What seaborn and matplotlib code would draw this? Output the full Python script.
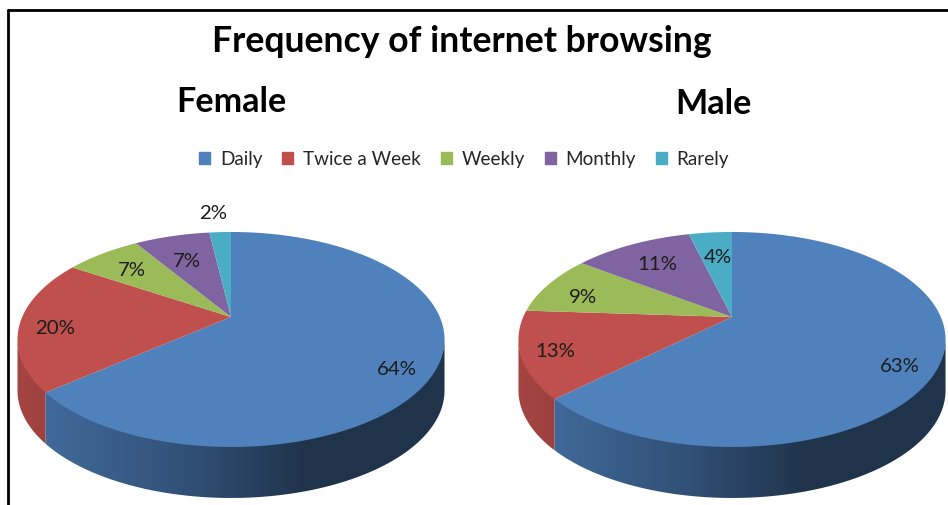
import numpy as np
import matplotlib
matplotlib.use("Agg")
import matplotlib.pyplot as plt
import seaborn as sns
from matplotlib.transforms import Transform, Affine2D
from matplotlib.path import Path
from matplotlib.patches import PathPatch, Rectangle
from matplotlib.colors import to_rgb

# ---------------- data ----------------
chart_title = "Frequency of internet browsing"
panel_titles = ["Female", "Male"]
categories = ["Daily", "Twice a Week", "Weekly", "Monthly", "Rarely"]
female_values = [64, 20, 7, 7, 2]
male_values = [63, 13, 9, 11, 4]

# ---------------- style ----------------
slice_colors = ["#4F81BD", "#C0504D", "#9BBB59", "#8064A2", "#4BACC6"]
female_label_r = [0.85, 0.83, 0.73, 0.67, 1.29]
female_label_dphi = [-7, 3, 1, 1, 1.3]
male_label_r = [0.85, 0.85, 0.77, 0.71, 0.67]
male_label_dphi = [-7, 1, 4.5, 0, -0.7]

W, H = 948, 506
sns.set_theme(style="white")
plt.rcParams["font.family"] = ["Lato", "DejaVu Sans"]

fig = plt.figure(figsize=(W / 100, H / 100), dpi=100)
ax = fig.add_axes([0, 0, 1, 1])

# perspective parameters (pixels)
K, A, B, DEPTH = 0.209, 208.8, 102.8, 51.0
XMAX = A / np.sqrt(1 - K ** 2)
FRONT = (180 + np.degrees(np.arcsin(K)), 360 - np.degrees(np.arcsin(K)))


def persp(u, v):
    w = 1 + K * v
    return A * u / w, B * v / w


class Perspective(Transform):
    input_dims = 2
    output_dims = 2
    is_separable = False
    has_inverse = False

    def transform_non_affine(self, values):
        values = np.asarray(values, float).reshape(-1, 2)
        X, Y = persp(values[:, 0], values[:, 1])
        return np.column_stack([X, Y])

    def transform_path_non_affine(self, path):
        pts = []
        for seg, code in path.iter_bezier():
            cp = seg.control_points
            if len(cp) == 1:
                pts.append(cp[:1])
                continue
            n = 2 if len(cp) == 2 else 40
            pts.append(seg(np.linspace(0, 1, n))[1:])
        pts = np.vstack(pts)
        pts = np.vstack([pts, pts[:1]])
        return Path(self.transform_non_affine(pts), closed=True)


renderer = fig.canvas.get_renderer()


def fit_size(text, target_w, **kw):
    t = fig.text(0, 0, text, fontsize=20, **kw)
    w = t.get_window_extent(renderer).width
    t.remove()
    return 20 * target_w / w


label_fs = fit_size("64%", 40)


def draw_pie(values, cx, cy, label_r, label_dphi):
    wedges, _ = ax.pie(values, colors=slice_colors, startangle=90,
                       counterclock=False, radius=1, center=(0, 0),
                       wedgeprops=dict(linewidth=0, antialiased=True))
    tr = Perspective() + Affine2D().translate(cx, cy) + ax.transData
    for w in wedges:
        w.set_transform(tr)
        w.set_zorder(3)
    # side walls
    for w, col in zip(wedges, slice_colors):
        t1, t2 = w.theta1, w.theta2
        for n in range(-2, 2):
            a = max(t1, FRONT[0] + 360 * n)
            b = min(t2, FRONT[1] + 360 * n)
            if b > a:
                phi = np.radians(np.linspace(a, b, 120))
                X, Y = persp(np.cos(phi), np.sin(phi))
                X = X + cx
                Y = Y + cy
                verts = np.concatenate([np.column_stack([X, Y + 1.5]),
                                        np.column_stack([X[::-1], Y[::-1] - DEPTH]),
                                        [[X[0], Y[0] + 1.5]]])
                patch = PathPatch(Path(verts, closed=True), fc="none", ec="none", zorder=2)
                ax.add_patch(patch)
                base = np.array(to_rgb(col))
                xs = np.linspace(-1, 1, 300)
                f = np.interp(xs, [-1, -0.2, 0.35, 1], [0.86, 0.62, 0.40, 0.40])
                img = np.clip(base[None, :] * f[:, None], 0, 1)[None, :, :]
                im = ax.imshow(img, extent=(cx - XMAX, cx + XMAX, cy - 250, cy + 50),
                               aspect="auto", zorder=2, interpolation="bilinear")
                im.set_clip_path(patch)
    # labels
    for w, v, r, dphi in zip(wedges, values, label_r, label_dphi):
        phi = np.radians((w.theta1 + w.theta2) / 2 + dphi)
        X, Y = persp(r * np.cos(phi), r * np.sin(phi))
        ax.text(cx + X, cy + Y, f"{v}%", ha="center", va="center",
                fontsize=label_fs, color="#1c1c1c", zorder=5)
    return wedges


draw_pie(female_values, 231, H - 318, female_label_r, female_label_dphi)
draw_pie(male_values, 732, H - 318, male_label_r, male_label_dphi)

ax.set_aspect("auto")
ax.set_xlim(0, W)
ax.set_ylim(0, H)
ax.axis("off")

# frame lines
ax.plot([8, W + 5], [H - 11, H - 11], color="black", lw=2.0, clip_on=False, zorder=6)
ax.plot([8, 8], [-5, H - 11], color="black", lw=2.0, clip_on=False, zorder=6)

# titles
title_fs = fit_size(chart_title, 500, fontweight="bold")
ax.text(462, H - 52, chart_title, ha="center", va="baseline",
        fontsize=title_fs, fontweight="bold", color="black")
fem_fs = fit_size(panel_titles[0], 110, fontweight="bold")
ax.text(231, H - 112, panel_titles[0], ha="center", va="baseline",
        fontsize=fem_fs, fontweight="bold", color="black")
ax.text(713.5, H - 114, panel_titles[1], ha="center", va="baseline",
        fontsize=fem_fs, fontweight="bold", color="black")

# legend
leg_fs = fit_size("Twice a Week", 118)
handles = [Rectangle((0, 0), 1, 1, color=c) for c in slice_colors]
fig.legend(handles, categories, loc="center", bbox_to_anchor=(464 / W, 1 - 160 / H),
           ncol=5, frameon=False, fontsize=leg_fs, handlelength=0.6, handleheight=0.6,
           handletextpad=0.5, columnspacing=1.05, borderpad=0)

fig.savefig("out.png", dpi=100)
